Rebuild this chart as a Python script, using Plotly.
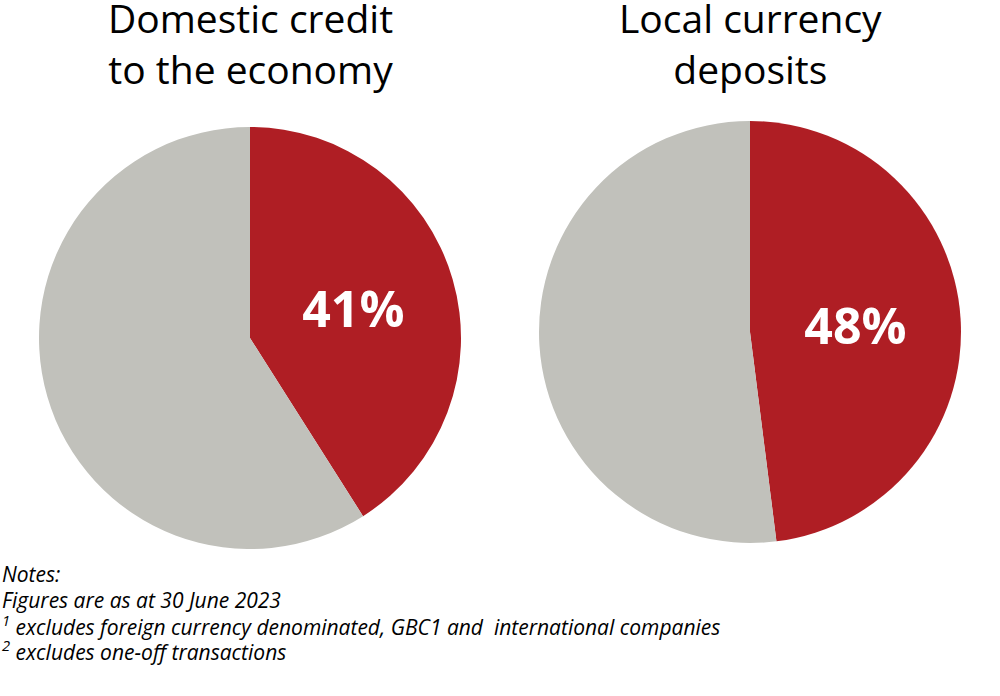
import plotly.graph_objects as go

titles = ["Domestic credit<br>to the economy", "Local currency<br>deposits"]
labels = ["Share", "Other"]
values_credit = [41, 59]
values_deposits = [48, 52]
notes = ["Notes:", "Figures are as at 30 June 2023",
         "<sup>1</sup> excludes foreign currency denominated, GBC1 and  international companies",
         "<sup>2</sup> excludes one-off transactions"]

RED = "#AF1E24"
GREY = "#C1C1BB"
W, H = 1000, 696

def dom(cx, cy, r):
    return dict(x=[(cx - r) / W, (cx + r) / W], y=[1 - (cy + r) / H, 1 - (cy - r) / H])

fig = go.Figure()
for vals, d in [(values_credit, dom(250, 338, 211)), (values_deposits, dom(750, 332, 211))]:
    fig.add_trace(go.Pie(
        labels=labels, values=vals, sort=False, direction="clockwise", rotation=0,
        marker=dict(colors=[RED, GREY], line=dict(width=0)),
        texttemplate=["%{percent:.0%}", ""], textposition="inside",
        insidetextorientation="horizontal",
        textfont=dict(family="Open Sans", size=50, color="white", weight="bold"),
        hoverinfo="label+percent", showlegend=False, domain=d,
    ))

for t, x in zip(titles, [250, 750]):
    fig.add_annotation(text=t, x=x / W, y=1 + 11 / H, xref="paper", yref="paper",
                       xanchor="center", yanchor="top", showarrow=False,
                       font=dict(family="Open Sans", size=39, color="black"))

for i, line in enumerate(notes):
    yc = [574, 600, 625, 650][i]
    fig.add_annotation(text=line, x=0.0, y=1 - yc / H, xref="paper", yref="paper",
                       xanchor="left", yanchor="middle", align="left", showarrow=False,
                       font=dict(family="Open Sans", size=21, color="black", style="italic"))

fig.update_layout(width=W, height=H, margin=dict(l=0, r=0, t=0, b=0),
                  paper_bgcolor="white", plot_bgcolor="white")
fig.write_html("out.html", config={"displayModeBar": False},
               post_script="document.body.style.margin='0px';")
